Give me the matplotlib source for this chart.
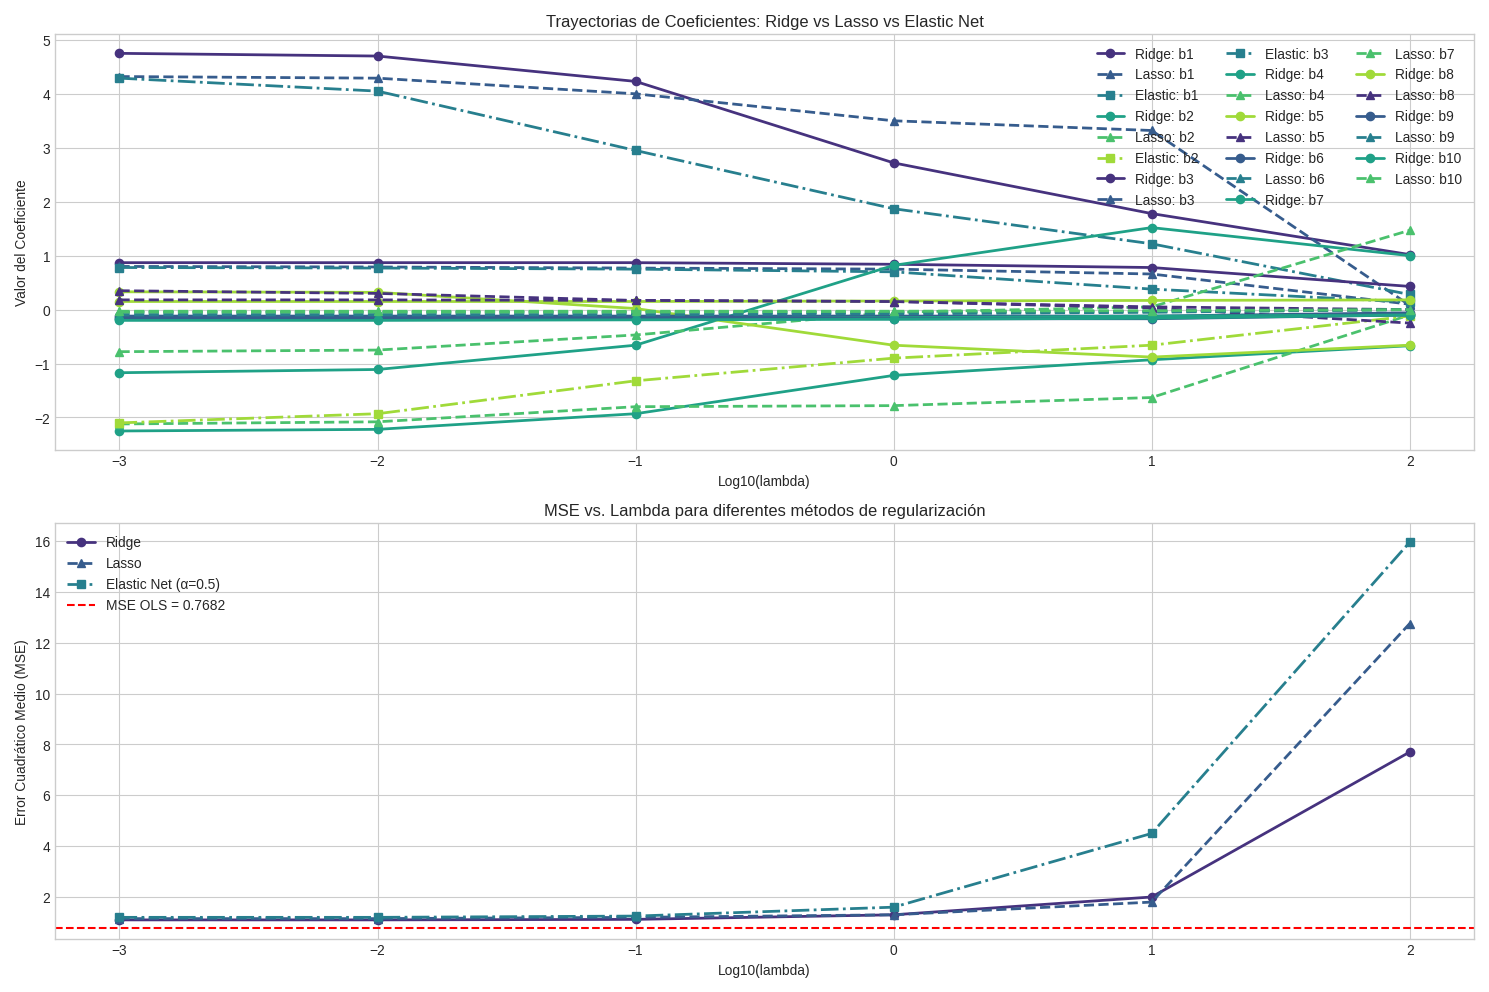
import numpy as np
import matplotlib
matplotlib.use("Agg")
import matplotlib.pyplot as plt
import seaborn as sns

log_lambdas = [-3, -2, -1, 0, 1, 2]

ridge = {
    "b1": [4.75, 4.70, 4.23, 2.72, 1.78, 1.02],
    "b2": [-2.25, -2.22, -1.93, -1.22, -0.93, -0.67],
    "b3": [0.87, 0.87, 0.87, 0.84, 0.78, 0.43],
    "b4": [-1.17, -1.11, -0.66, 0.82, 1.52, 1.00],
    "b5": [0.33, 0.32, 0.02, -0.66, -0.88, -0.66],
    "b6": [-0.12, -0.12, -0.12, -0.12, -0.12, -0.06],
    "b7": [-0.18, -0.18, -0.17, -0.15, -0.12, -0.10],
    "b8": [0.15, 0.15, 0.15, 0.16, 0.17, 0.18],
    "b9": [-0.15, -0.15, -0.15, -0.17, -0.17, -0.10],
    "b10": [-0.20, -0.20, -0.19, -0.18, -0.16, -0.10],
}
lasso = {
    "b1": [4.32, 4.29, 4.00, 3.50, 3.32, 0.08],
    "b2": [-2.12, -2.08, -1.80, -1.78, -1.63, -0.10],
    "b3": [0.80, 0.79, 0.77, 0.75, 0.66, 0.10],
    "b4": [-0.78, -0.75, -0.47, -0.05, 0.05, 1.47],
    "b5": [0.35, 0.30, 0.17, 0.15, 0.03, -0.25],
    "b6": [-0.05, -0.05, -0.05, -0.05, -0.03, 0.00],
    "b7": [-0.05, -0.05, -0.05, -0.05, -0.04, 0.00],
    "b8": [0.18, 0.18, 0.17, 0.15, 0.05, 0.00],
    "b9": [-0.10, -0.10, -0.10, -0.08, -0.05, 0.00],
    "b10": [-0.03, -0.03, -0.03, -0.03, -0.02, 0.00],
}
elastic = {
    "b1": [4.29, 4.05, 2.95, 1.87, 1.22, 0.28],
    "b2": [-2.10, -1.93, -1.32, -0.90, -0.66, -0.12],
    "b3": [0.78, 0.77, 0.75, 0.70, 0.38, 0.14],
}

mse_ridge = [1.10, 1.10, 1.12, 1.30, 2.00, 7.70]
mse_lasso = [1.15, 1.15, 1.20, 1.30, 1.80, 12.75]
mse_elastic = [1.20, 1.20, 1.25, 1.60, 4.50, 15.95]
mse_ols = 0.7682

plt.style.use("seaborn-v0_8-whitegrid")
pal = sns.color_palette("viridis", 6)
plt.rcParams["axes.prop_cycle"] = matplotlib.cycler(color=pal)

fig, (ax1, ax2) = plt.subplots(2, 1, figsize=(15, 10), dpi=99.27)

for i in range(1, 11):
    k = f"b{i}"
    ax1.plot(log_lambdas, ridge[k], "o-", lw=2, label=f"Ridge: {k}")
    ax1.plot(log_lambdas, lasso[k], "^--", lw=2, label=f"Lasso: {k}")
    if k in elastic:
        ax1.plot(log_lambdas, elastic[k], "s-.", lw=2, label=f"Elastic: {k}")
ax1.set_title("Trayectorias de Coeficientes: Ridge vs Lasso vs Elastic Net")
ax1.set_xlabel("Log10(lambda)")
ax1.set_ylabel("Valor del Coeficiente")
ax1.legend(ncol=3, loc="upper right")
for a in (ax1, ax2):
    for s in a.spines.values():
        s.set_visible(True); s.set_color("#cccccc")

ax2.plot(log_lambdas, mse_ridge, "o-", lw=2, label="Ridge")
ax2.plot(log_lambdas, mse_lasso, "^--", lw=2, label="Lasso")
ax2.plot(log_lambdas, mse_elastic, "s-.", lw=2, label="Elastic Net (α=0.5)")
ax2.axhline(mse_ols, color="r", ls="--", label=f"MSE OLS = {mse_ols:.4f}")
ax2.set_title("MSE vs. Lambda para diferentes métodos de regularización")
ax2.set_xlabel("Log10(lambda)")
ax2.set_ylabel("Error Cuadrático Medio (MSE)")
ax2.legend(loc="upper left")

plt.tight_layout()
plt.savefig("out.png")
